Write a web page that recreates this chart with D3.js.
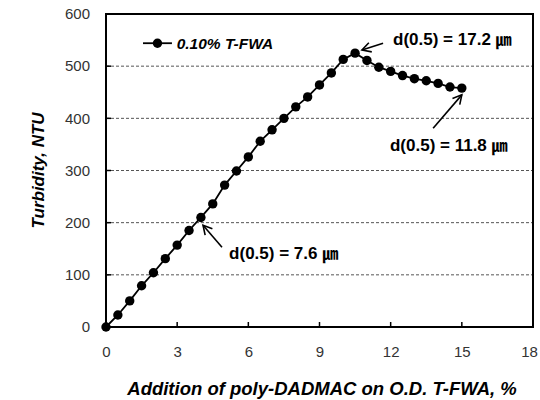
<!DOCTYPE html>
<html><head><meta charset="utf-8">
<script src="https://cdn.jsdelivr.net/npm/d3@7"></script>
<style>body{margin:0;background:#fff}svg{display:block}</style>
</head><body>
<svg id="c" width="540" height="400"></svg>
<script>
const dosage = [0,0.5,1,1.5,2,2.5,3,3.5,4,4.5,5,5.5,6,6.5,7,7.5,8,8.5,9,9.5,10,10.5,11,11.5,12,12.5,13,13.5,14,14.5,15];
const turbidity = [0,23,50,79,104,131,157,185,210,236,272,299,326,356,378,400,422,441,464,487,513,525,511,498,490,482,476,472,467,460,458];
const xTicks = [0,3,6,9,12,15,18];
const yTicks = [0,100,200,300,400,500,600];
const seriesName = "0.10% T-FWA";
const annTexts = ["d(0.5) = 17.2 ", "d(0.5) = 11.8 ", "d(0.5) = 7.6 "];
const annUnit = "㎛";
// arrows in data units: [tailX, tailY, headX, headY], label anchor [x, y]
const annArrows = [[11.68,544,10.79,531],[13.79,381,15.0,445],[4.89,153,4.09,195]];
const annLabels = [[12.1,552],[11.97,349],[5.19,142]];

const svg = d3.select("#c");
const x = d3.scaleLinear().domain([0,18]).range([106,533]);
const y = d3.scaleLinear().domain([0,600]).range([327,14]);
const ff = "Liberation Sans, Arial, sans-serif";

// gridlines
svg.append("g").selectAll("line").data(yTicks.filter(d=>d>0&&d<600)).join("line")
  .attr("x1",x(0)).attr("x2",x(18)).attr("y1",d=>y(d)).attr("y2",d=>y(d))
  .attr("stroke","#555").attr("stroke-width",1).attr("stroke-dasharray","3,2");

// axes
const yAxis = d3.axisLeft(y).tickValues(yTicks).tickSize(0).tickPadding(16);
const gy = svg.append("g").attr("transform",`translate(${x(0)},0)`).call(yAxis);
gy.select(".domain").remove();
gy.selectAll("text").attr("font-family",ff).attr("font-size",15).attr("fill","#333");
const xAxis = d3.axisBottom(x).tickValues(xTicks).tickSize(0).tickPadding(19);
const gx = svg.append("g").attr("transform",`translate(0,${y(0)})`).call(xAxis);
gx.select(".domain").remove();
gx.selectAll("text").attr("font-family",ff).attr("font-size",15).attr("fill","#333")
  .attr("dx",d=>d===18?"-4":"0");

// inward tick marks
svg.append("g").selectAll("line").data(xTicks.filter(d=>d>0&&d<18)).join("line")
  .attr("x1",d=>x(d)).attr("x2",d=>x(d)).attr("y1",y(0)).attr("y2",y(0)-5)
  .attr("stroke","#000").attr("stroke-width",1.5);
svg.append("g").selectAll("line").data(yTicks.filter(d=>d>0&&d<600)).join("line")
  .attr("x1",x(0)).attr("x2",x(0)+5).attr("y1",d=>y(d)).attr("y2",d=>y(d))
  .attr("stroke","#000").attr("stroke-width",1.5);

// frame
svg.append("rect").attr("x",x(0)).attr("y",y(600)).attr("width",x(18)-x(0)).attr("height",y(0)-y(600))
  .attr("fill","none").attr("stroke","#000").attr("stroke-width",2);

// series
const pts = dosage.map((d,i)=>[d,turbidity[i]]);
svg.append("path").datum(pts)
  .attr("d",d3.line().x(d=>x(d[0])).y(d=>y(d[1])))
  .attr("fill","none").attr("stroke","#000").attr("stroke-width",1.8);
svg.append("g").selectAll("circle").data(pts).join("circle")
  .attr("cx",d=>x(d[0])).attr("cy",d=>y(d[1])).attr("r",4.7).attr("fill","#000");

// legend
const lgY = y(544);
svg.append("line").attr("x1",x(1.56)).attr("x2",x(2.78)).attr("y1",lgY).attr("y2",lgY).attr("stroke","#000").attr("stroke-width",1.8);
svg.append("circle").attr("cx",(x(1.56)+x(2.78))/2).attr("cy",lgY).attr("r",4.7).attr("fill","#000");
svg.append("text").attr("x",x(2.98)).attr("y",lgY).attr("dy","0.35em")
  .attr("font-family",ff).attr("font-size",15.5)
  .attr("font-weight","bold").attr("font-style","italic").text(seriesName);

// annotations
annArrows.forEach(a=>{
  const x1=x(a[0]), y1=y(a[1]), x2=x(a[2]), y2=y(a[3]);
  svg.append("line").attr("x1",x1).attr("y1",y1).attr("x2",x2).attr("y2",y2).attr("stroke","#000").attr("stroke-width",1.6);
  const ang = Math.atan2(y2-y1,x2-x1), L=10, w=0.5;
  const p = d3.path();
  p.moveTo(x2-L*Math.cos(ang-w), y2-L*Math.sin(ang-w));
  p.lineTo(x2,y2);
  p.lineTo(x2-L*Math.cos(ang+w), y2-L*Math.sin(ang+w));
  svg.append("path").attr("d",p.toString()).attr("fill","none").attr("stroke","#000").attr("stroke-width",1.6);
});
annLabels.forEach((l,i)=>{
  const t = svg.append("text").attr("x",x(l[0])).attr("y",y(l[1])).attr("dy","0.35em")
    .attr("font-family",ff).attr("font-size",17).attr("font-weight","bold");
  t.append("tspan").text(annTexts[i]);
  t.append("tspan").attr("font-family","Noto Sans CJK KR").attr("font-weight","bold").attr("font-size",16).text(annUnit);
});

// axis titles
svg.append("text").attr("transform",`translate(38,${(y(0)+y(600))/2}) rotate(-90)`)
  .attr("text-anchor","middle").attr("dy","0.35em")
  .attr("font-family",ff).attr("font-size",17).attr("font-weight","bold").attr("font-style","italic")
  .text("Turbidity, NTU");
svg.append("text").attr("x",322).attr("y",395).attr("text-anchor","middle")
  .attr("font-family",ff).attr("font-size",18.5).attr("font-weight","bold").attr("font-style","italic")
  .text("Addition of poly-DADMAC on O.D. T-FWA, %");
</script>
</body></html>
